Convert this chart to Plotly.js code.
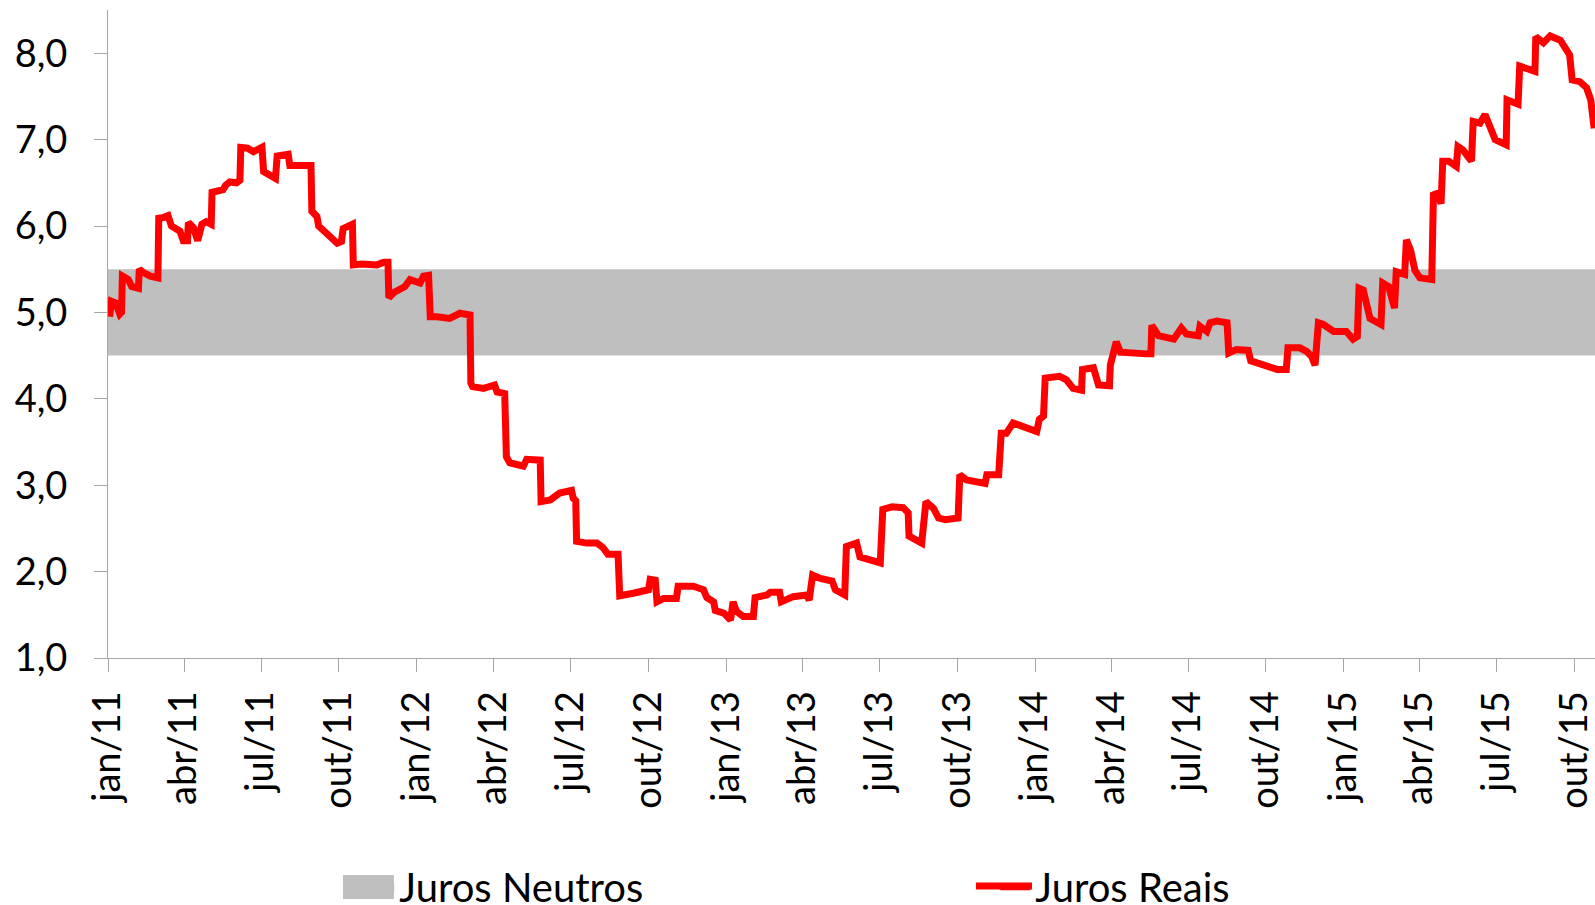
<!DOCTYPE html>
<html><head><meta charset="utf-8">
<script src="https://cdn.plot.ly/plotly-3.0.1.min.js"></script>
<style>html,body{margin:0;padding:0;background:#fff;} #chart{width:1595px;height:905px;}</style>
</head><body><div id="chart"></div>
<script>
const dates = ['2011-01-03','2011-01-05','2011-01-10','2011-01-15','2011-01-17','2011-01-18','2011-01-25','2011-01-29','2011-02-06','2011-02-07','2011-02-12','2011-02-20','2011-03-01','2011-03-02','2011-03-08','2011-03-13','2011-03-17','2011-03-27','2011-03-31','2011-04-05','2011-04-06','2011-04-12','2011-04-17','2011-04-22','2011-04-27','2011-05-03','2011-05-04','2011-05-17','2011-05-20','2011-05-25','2011-06-02','2011-06-06','2011-06-07','2011-06-15','2011-06-22','2011-07-02','2011-07-04','2011-07-10','2011-07-18','2011-07-20','2011-08-02','2011-08-04','2011-08-29','2011-08-30','2011-09-05','2011-09-07','2011-09-13','2011-09-21','2011-09-29','2011-10-04','2011-10-06','2011-10-17','2011-10-18','2011-10-28','2011-11-15','2011-11-23','2011-11-28','2011-11-29','2011-12-05','2011-12-18','2011-12-24',
'2012-01-05','2012-01-09','2012-01-15','2012-01-17','2012-01-25','2012-02-09','2012-02-21','2012-02-29','2012-03-04','2012-03-05','2012-03-07','2012-03-20','2012-04-02','2012-04-05','2012-04-14','2012-04-16','2012-04-20','2012-05-06','2012-05-10','2012-05-26','2012-05-27','2012-06-07','2012-06-18','2012-07-02','2012-07-04','2012-07-07','2012-07-08','2012-07-20','2012-08-01','2012-08-08','2012-08-14','2012-08-26','2012-08-28','2012-09-13','2012-10-01','2012-10-03','2012-10-09','2012-10-11','2012-10-19','2012-11-03','2012-11-05','2012-11-23','2012-12-05','2012-12-09','2012-12-17','2012-12-19','2012-12-29',
'2013-01-06','2013-01-09','2013-01-13','2013-01-21','2013-02-02','2013-02-04','2013-02-18','2013-02-22','2013-03-05','2013-03-07','2013-03-21','2013-04-06','2013-04-09','2013-04-13','2013-04-22','2013-05-06','2013-05-10','2013-05-21','2013-05-23','2013-06-04','2013-06-08','2013-06-24','2013-07-02','2013-07-05','2013-07-16','2013-07-29','2013-08-04','2013-08-05','2013-08-20','2013-08-25','2013-09-03','2013-09-09','2013-09-17','2013-10-02','2013-10-04','2013-10-12','2013-11-03','2013-11-05','2013-11-19','2013-11-22','2013-11-28','2013-12-06','2013-12-22',
'2014-01-03','2014-01-06','2014-01-11','2014-01-13','2014-01-30','2014-02-07','2014-02-15','2014-02-25','2014-02-26','2014-03-11','2014-03-17','2014-03-30','2014-03-31','2014-04-07','2014-04-12','2014-05-13','2014-05-18','2014-05-19','2014-05-27','2014-06-14','2014-06-23','2014-06-29','2014-07-13','2014-07-15','2014-07-23','2014-07-27','2014-08-04','2014-08-16','2014-08-18','2014-08-27','2014-09-10','2014-09-13','2014-09-22','2014-10-06','2014-10-14','2014-10-25','2014-10-27','2014-11-10','2014-11-18','2014-11-24','2014-11-28','2014-12-02','2014-12-08','2014-12-20',
'2015-01-04','2015-01-12','2015-01-17','2015-01-19','2015-01-24','2015-02-01','2015-02-14','2015-02-16','2015-02-23','2015-03-02','2015-03-04','2015-03-14','2015-03-16','2015-03-21','2015-03-26','2015-04-01','2015-04-15','2015-04-17','2015-04-22','2015-04-26','2015-04-28','2015-05-05','2015-05-14','2015-05-16','2015-05-22','2015-05-28','2015-06-01','2015-06-03','2015-06-11','2015-06-17','2015-06-23','2015-06-29','2015-07-12','2015-07-13','2015-07-26','2015-07-28','2015-08-15','2015-08-16','2015-08-25','2015-09-02','2015-09-14','2015-09-18','2015-09-25','2015-09-28','2015-10-07','2015-10-15','2015-10-20','2015-10-24'];

const jurosReais = [4.95,5.13,5.11,4.98,5.00,5.42,5.38,5.30,5.28,5.50,5.46,5.42,5.40,6.09,6.10,6.12,6.00,5.94,5.83,5.83,6.04,5.98,5.83,6.02,6.05,6.02,6.39,6.42,6.47,6.51,6.50,6.53,6.91,6.90,6.86,6.91,6.63,6.59,6.55,6.81,6.83,6.70,6.70,6.17,6.11,6.00,5.94,5.86,5.80,5.82,5.97,6.02,5.55,5.56,5.55,5.58,5.58,5.17,5.23,5.30,5.38,
5.34,5.42,5.43,4.95,4.95,4.93,4.99,4.98,4.97,4.18,4.14,4.12,4.16,4.08,4.06,3.33,3.26,3.22,3.30,3.29,2.81,2.83,2.91,2.94,2.85,2.82,2.35,2.33,2.33,2.28,2.20,2.20,1.72,1.75,1.79,1.91,1.90,1.65,1.69,1.69,1.83,1.83,1.79,1.70,1.65,1.55,1.52,
1.44,1.65,1.54,1.48,1.48,1.70,1.73,1.76,1.76,1.65,1.71,1.73,1.67,1.96,1.92,1.89,1.79,1.73,2.29,2.33,2.17,2.12,2.10,2.72,2.75,2.74,2.68,2.41,2.33,2.81,2.73,2.62,2.60,2.62,3.12,3.06,3.02,3.12,3.12,3.60,3.60,3.72,3.66,
3.62,3.76,3.80,4.24,4.26,4.22,4.12,4.10,4.34,4.36,4.16,4.15,4.39,4.66,4.54,4.52,4.52,4.85,4.73,4.69,4.82,4.75,4.73,4.84,4.78,4.88,4.90,4.88,4.53,4.57,4.56,4.44,4.41,4.38,4.34,4.34,4.59,4.59,4.55,4.49,4.39,4.88,4.86,4.78,
4.78,4.69,4.72,5.28,5.26,4.93,4.86,5.34,5.30,5.05,5.47,5.44,5.84,5.72,5.49,5.40,5.38,6.36,6.38,6.26,6.75,6.75,6.69,6.92,6.88,6.80,6.75,7.21,7.19,7.29,7.13,7.00,6.94,7.46,7.41,7.85,7.79,8.19,8.12,8.20,8.15,8.08,7.98,7.69,7.67,7.60,7.46,7.13];

const neutroStart = '2011-01-01';
const neutroEnd = '2015-11-30';
const neutroLow = 4.5;
const neutroHigh = 5.5;

const tickDates = ['2011-01-01','2011-04-01','2011-07-01','2011-10-01','2012-01-01','2012-04-01','2012-07-01','2012-10-01','2013-01-01','2013-04-01','2013-07-01','2013-10-01','2014-01-01','2014-04-01','2014-07-01','2014-10-01','2015-01-01','2015-04-01','2015-07-01','2015-10-01'];
const tickLabels = ['jan/11','abr/11','jul/11','out/11','jan/12','abr/12','jul/12','out/12','jan/13','abr/13','jul/13','out/13','jan/14','abr/14','jul/14','out/14','jan/15','abr/15','jul/15','out/15'];

const axisGray = '#a6a6a6';
const neutroColor = '#bfbfbf';
const reaisColor = '#ff0000';

const traces = [
  {
    name: 'Juros Neutros', type: 'scatter', mode: 'lines',
    x: [neutroStart, neutroEnd, neutroEnd, neutroStart],
    y: [neutroLow, neutroLow, neutroHigh, neutroHigh],
    fill: 'toself', fillcolor: neutroColor, line: {width: 0, color: neutroColor},
    hoverinfo: 'skip'
  },
  {
    name: 'Juros Reais', type: 'scatter', mode: 'lines',
    x: dates, y: jurosReais,
    line: {color: reaisColor, width: 7}
  }
];

const layout = {
  width: 1595, height: 905,
  margin: {l: 108, r: 0, t: 10, b: 247, autoexpand: false},
  paper_bgcolor: '#ffffff', plot_bgcolor: '#ffffff',
  separators: ',.',
  font: {family: 'Lato, sans-serif', size: 38, color: '#000000'},
  showlegend: true,
  legend: {orientation: 'h', x: 0.169, xanchor: 'left', y: -0.353, yanchor: 'middle',
    font: {size: 40, color: '#000000'}, entrywidth: 591, entrywidthmode: 'pixels',
    bgcolor: 'rgba(0,0,0,0)'},
  // enlarged legend keys, matching the wider keys of the original legend
  shapes: [
    {type: 'rect', xref: 'paper', yref: 'paper', x0: 0.158, x1: 0.1923, y0: -0.3349, y1: -0.3719,
      fillcolor: neutroColor, line: {width: 0}, layer: 'above'},
    {type: 'line', xref: 'paper', yref: 'paper', x0: 0.5837, x1: 0.6214, y0: -0.3519, y1: -0.3519,
      line: {color: reaisColor, width: 7}, layer: 'above'}
  ],
  xaxis: {type: 'date', range: ['2011-01-01', '2015-10-25'], tickmode: 'array',
    tickvals: tickDates, ticktext: tickLabels, tickangle: -90,
    ticks: 'outside', ticklen: 13, tickcolor: axisGray, tickwidth: 1,
    showline: true, linecolor: axisGray, linewidth: 1,
    showgrid: false, zeroline: false, ticklabelstandoff: 4, ticklabeloverflow: 'allow'},
  yaxis: {range: [1, 8.5], tick0: 1, dtick: 1, tickformat: '.1f',
    ticks: 'outside', ticklen: 13, tickcolor: axisGray, tickwidth: 1,
    showline: true, linecolor: axisGray, linewidth: 1,
    showgrid: false, zeroline: false, ticklabelstandoff: 19}
};

Plotly.newPlot('chart', traces, layout, {displayModeBar: false, staticPlot: true});
</script>
</body></html>
